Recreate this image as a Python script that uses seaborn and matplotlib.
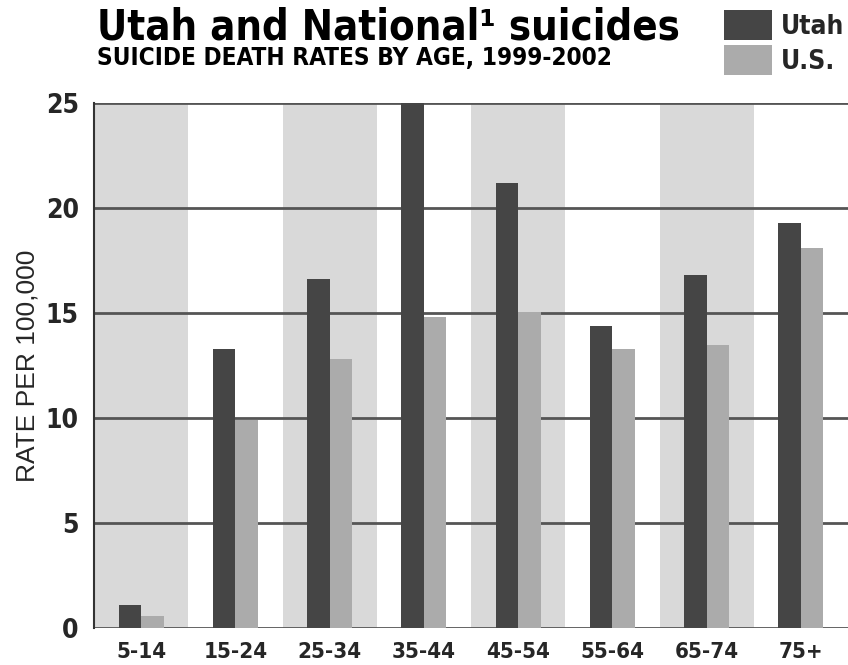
import pandas as pd
import numpy as np
import seaborn as sns
import matplotlib.pyplot as plt
from matplotlib.patches import Patch

# datos
age_groups = ['5-14', '15-24', '25-34', '35-44', '45-54', '55-64', '65-74', '75+']
utah_rates = [1.1, 13.3, 16.6, 25.0, 21.2, 14.4, 16.8, 19.3]
us_rates = [0.55, 9.9, 12.8, 14.8, 15.05, 13.3, 13.5, 18.1]
series_names = ['Utah', 'U.S.']
yticks = [0, 5, 10, 15, 20, 25]

df = pd.DataFrame({
    'age': age_groups * 2,
    'rate': utah_rates + us_rates,
    'region': ['Utah'] * len(age_groups) + ['U.S.'] * len(age_groups),
})

sns.set_style('white')
plt.rcParams['font.family'] = ['DejaVu Sans']
plt.rcParams['font.stretch'] = 'condensed'

colors = {'Utah': '#454545', 'U.S.': '#ababab'}

fig = plt.figure(figsize=(8.48, 6.65), dpi=100)
ax = fig.add_axes([94 / 848, 1 - 628 / 665, 1 - 94 / 848, (628 - 103) / 665])

# bandas grises alternas
for i in range(0, len(age_groups), 2):
    ax.axvspan(i - 0.5, i + 0.5, color='#d9d9d9', zorder=0, lw=0)

for y in yticks:
    ax.axhline(y, color='#555555', lw=2, zorder=1)

sns.barplot(data=df, x='age', y='rate', hue='region', order=age_groups,
            hue_order=series_names, palette=colors, width=0.48, gap=0,
            saturation=1, legend=False, ax=ax, zorder=2, linewidth=0)

ax.set_xlim(-0.5, len(age_groups) - 0.5)
ax.set_ylim(0, 25)
ax.set_yticks(yticks)
ax.set_yticklabels([str(t) for t in yticks], fontsize=19, fontweight='bold')
ax.set_xticks(range(len(age_groups)))
ax.set_xticklabels(age_groups, fontsize=16, fontweight='bold')
ax.tick_params(axis='y', length=0, pad=11)
ax.tick_params(axis='x', length=0, pad=10)
ax.set_xlabel('')
ax.set_ylabel('RATE PER 100,000', fontsize=19, family='Liberation Sans', stretch='normal')
ax.yaxis.set_label_coords(-54 / 754, 0.5)

for s in ['top', 'right', 'bottom']:
    ax.spines[s].set_visible(False)
ax.spines['left'].set_color('#333333')
ax.spines['left'].set_linewidth(1.5)
ax.spines['left'].set_zorder(3)

fig.text(97 / 848, 1 - 39 / 665, 'Utah and National\u00b9 suicides', fontsize=30,
         fontweight='bold', color='black', ha='left', va='baseline')
fig.text(97 / 848, 1 - 65 / 665, 'SUICIDE DEATH RATES BY AGE, 1999-2002', fontsize=17.5,
         fontweight='bold', color='black', ha='left', va='baseline')

handles = [Patch(facecolor=colors[n], edgecolor='none') for n in series_names]
fig.legend(handles, series_names, loc='upper left', bbox_to_anchor=(724 / 848, 1 - 10 / 665),
           frameon=False, prop={'size': 19, 'weight': 'bold', 'stretch': 'condensed'},
           handlelength=1.8, handleheight=1.35, borderaxespad=0,
           handletextpad=0.35, labelspacing=0.22, borderpad=0)

fig.savefig('out.png', dpi=100)
